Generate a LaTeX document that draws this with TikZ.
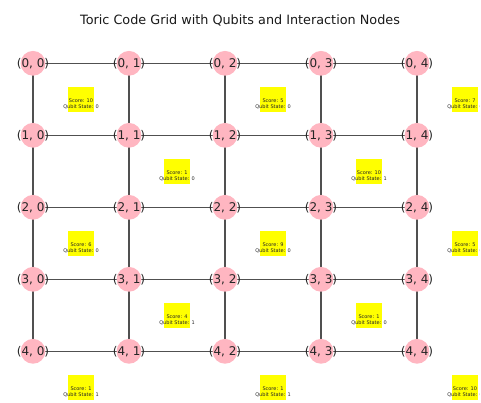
\documentclass[tikz,border=0pt]{standalone}
\usepackage{fontspec}
\setmainfont{DejaVu Sans}
\usetikzlibrary{backgrounds}
\definecolor{qpink}{HTML}{FFB6C1}
\definecolor{edgegray}{HTML}{505050}
\definecolor{qyellow}{HTML}{FFFF00}
\begin{document}
\begin{tikzpicture}[x=1pt,y=-1pt,
  qubit/.style={circle,fill=qpink,draw=none,minimum size=24.8pt,inner sep=0pt},
  qlabel/.style={inner sep=0pt,font=\fontsize{12}{14}\selectfont,text=black!85},
  edge/.style={draw=edgegray,line width=1.3pt},
  facebox/.style={fill=qyellow,draw=none,minimum width=26pt,minimum height=25pt,inner sep=0pt},
  facetext/.style={inner sep=0pt,align=center,font=\fontsize{5}{5.7}\selectfont,text=black!85},
  titlestyle/.style={inner sep=0pt,font=\fontsize{12.8}{15}\selectfont,text=black!90}]
\useasboundingbox (0,0) rectangle (481,402);
\node[titlestyle] (title) at (240,20) {Toric Code Grid with Qubits and Interaction Nodes};
\foreach \i in {0,...,4}{
  \foreach \j in {0,...,4}{
    \node[qubit] (q\i\j) at ({33+96*\j},{63.3+72*\i}) {};
    \node[qlabel] (l\i\j) at (q\i\j) {(\i, \j)};
  }
}
\begin{scope}[on background layer]
\foreach \i in {0,...,4}{
  \foreach \j [evaluate=\j as \k using int(\j+1)] in {0,...,3}{
    \draw[edge] (q\i\j.center) -- (q\i\k.center);
    \draw[edge] (q\j\i.center) -- (q\k\i.center);
  }
}
\end{scope}
\begin{scope}
\clip (0,0) rectangle (479,402);
\foreach \x/\y/\s/\q [count=\n] in {
  81/99/10/0, 273/99/5/0, 465/99/7/0,
  177/171/1/0, 369/171/10/1,
  81/243/6/0, 273/243/9/0, 465/243/5/0,
  177/315/4/1, 369/315/1/0,
  81/387/1/1, 273/387/1/1, 465/387/10/0}{
  \node[facebox] (f\n) at (\x,\y) {};
  \node[facetext] (t\n) at ([yshift=-5.3pt]f\n.center) {Score: \s\\Qubit State: \q};
}
\end{scope}
\end{tikzpicture}
\end{document}
